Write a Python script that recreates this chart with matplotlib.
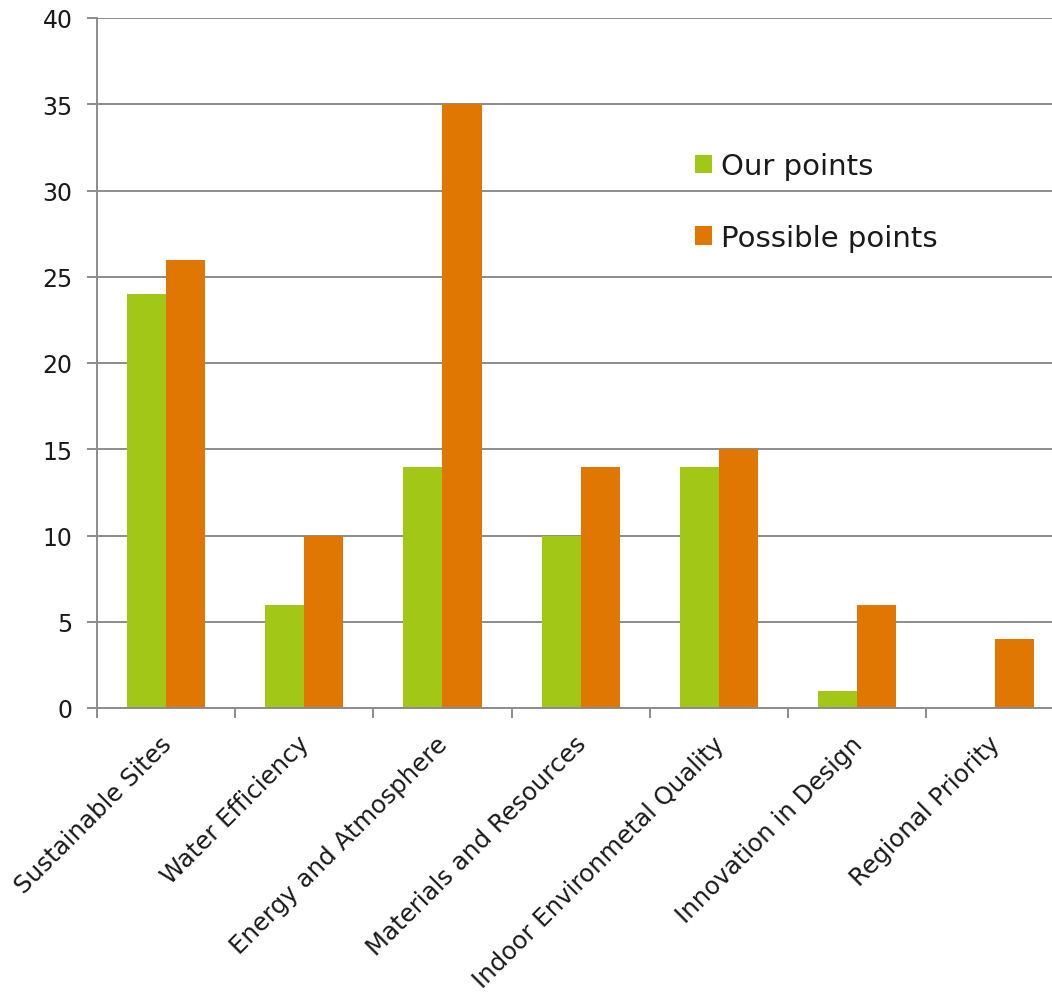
import matplotlib
matplotlib.use("Agg")
import matplotlib.pyplot as plt
import matplotlib.transforms as mtransforms
import numpy as np

categories = ["Sustainable Sites", "Water Efficiency", "Energy and Atmosphere",
              "Materials and Resources", "Indoor Environmetal Quality",
              "Innovation in Design", "Regional Priority"]
our_points = [24, 6, 14, 10, 14, 1, 0]
possible_points = [26, 10, 35, 14, 15, 6, 4]
y_ticks = [0, 5, 10, 15, 20, 25, 30, 35, 40]

GREEN = "#A3C717"
ORANGE = "#E07702"
GRID = "#8C8C8C"
TEXT = "#1a1a1a"

plt.rcParams["font.family"] = ["DejaVu Sans"]

W, H = 1052, 995
fig = plt.figure(figsize=(W / 100, H / 100), dpi=100)
left, bottom, top = 97, 709, 19
right = 97 + 7 * 138.2
ax = fig.add_axes([left / W, 1 - bottom / H, (right - left) / W, (bottom - top) / H])

n = len(categories)
centers = np.arange(n) + 0.5
bw = 0.283
ax.bar(centers - bw / 2, our_points, width=bw, color=GREEN, label="Our points", zorder=3)
ax.bar(centers + bw / 2, possible_points, width=bw, color=ORANGE, label="Possible points", zorder=3)

ax.set_xlim(0, n)
ax.set_ylim(0, 40)
ax.set_yticks(y_ticks)
ax.set_yticklabels([str(v) for v in y_ticks], fontsize=17, color=TEXT)
ax.set_xticks(np.arange(n))
ax.set_xticklabels([])
ax.set_xticks(centers, minor=True)
ax.set_xticklabels(categories, minor=True, rotation=45, ha="right",
                   rotation_mode="anchor", fontsize=17.6, color=TEXT)
ax.tick_params(axis="x", which="minor", length=0, pad=14)
ax.tick_params(axis="x", which="major", length=7, width=1.4, color=GRID, direction="out")
ax.tick_params(axis="y", length=7, width=1.4, color=GRID, direction="out", pad=10.5)

# nudge the slanted category labels slightly left and down
shift = mtransforms.ScaledTranslation(-7 / 100, -4 / 100, fig.dpi_scale_trans)
for lbl in ax.get_xticklabels(minor=True):
    lbl.set_transform(lbl.get_transform() + shift)

ax.yaxis.grid(True, color=GRID, linewidth=1.4, zorder=0)
ax.set_axisbelow(True)
for s in ["top", "right"]:
    ax.spines[s].set_visible(False)
for s in ["left", "bottom"]:
    ax.spines[s].set_color(GRID)
    ax.spines[s].set_linewidth(1.4)
    ax.spines[s].set_zorder(4)

leg = ax.legend(loc="upper left", bbox_to_anchor=(695 / W, 1 - 153 / H),
                bbox_transform=fig.transFigure, frameon=False, fontsize=21,
                handlelength=0.58, handleheight=0.58, handletextpad=0.3,
                labelspacing=1.5, borderpad=0, borderaxespad=0)
for t in leg.get_texts():
    t.set_color(TEXT)

fig.savefig("out.png", dpi=100)
